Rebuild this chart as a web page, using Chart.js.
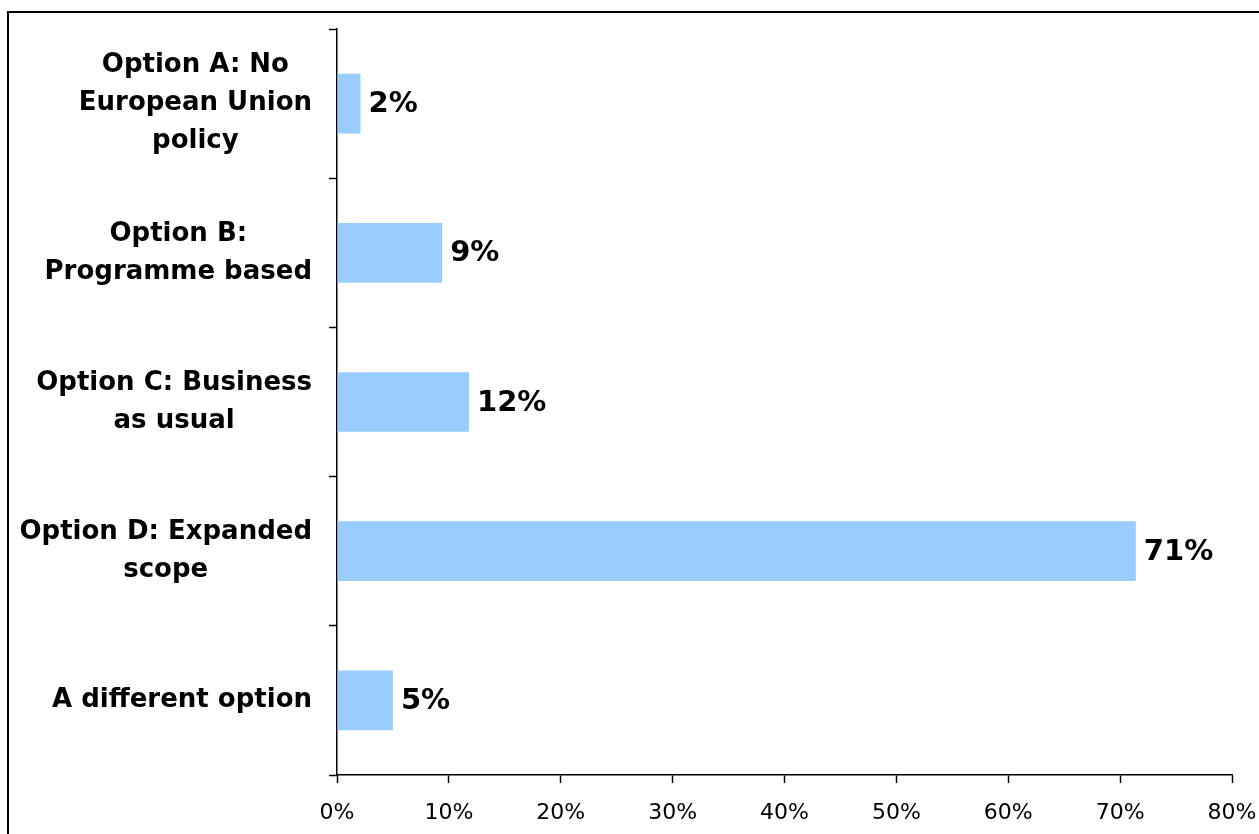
<!DOCTYPE html>
<html lang="en">
<head>
    <meta charset="UTF-8">
    <title>Policy options</title>
    <script src="https://cdn.jsdelivr.net/npm/chart.js"></script>
    <style>
        body {
            margin: 0;
            padding: 0;
            background-color: #fff;
            overflow: hidden;
        }
        .frame {
            position: absolute;
            left: 7px;
            top: 11px;
            width: 1300px;
            height: 900px;
            border: 2px solid #000;
        }
        .wrap {
            position: absolute;
            left: 0;
            top: 0;
            width: 1259px;
            height: 834px;
        }
    </style>
</head>
<body>
    <div class="frame"></div>
    <div class="wrap"><canvas id="optionsChart"></canvas></div>

    <script>
        const categories = [
            ['Option A: No', 'European Union', 'policy'],
            ['Option B:', 'Programme based'],
            ['Option C: Business', 'as usual'],
            ['Option D: Expanded', 'scope'],
            ['A different option']
        ];
        const shares = [2.1, 9.4, 11.8, 71.4, 5.0];
        const xTicks = [0, 10, 20, 30, 40, 50, 60, 70, 80];

        const labelFont = 'bold 26px "DejaVu Sans", Tahoma, sans-serif';
        const valueFont = 'bold 29px "DejaVu Sans", Tahoma, sans-serif';

        // category labels: each block right-aligned, lines centred within the block
        const categoryLabels = {
            id: 'categoryLabels',
            afterDraw(chart) {
                const ctx = chart.ctx;
                const y = chart.scales.y;
                const rightEdge = y.right - 25;
                ctx.save();
                ctx.font = labelFont;
                ctx.fillStyle = '#000';
                ctx.textAlign = 'center';
                ctx.textBaseline = 'middle';
                categories.forEach((lines, i) => {
                    const widest = Math.max(...lines.map(l => ctx.measureText(l).width));
                    const cx = rightEdge - widest / 2;
                    const cy = y.getPixelForValue(i);
                    const lh = 38;
                    lines.forEach((line, j) => {
                        ctx.fillText(line, cx, cy + (j - (lines.length - 1) / 2) * lh);
                    });
                });
                ctx.restore();
            }
        };

        // value labels at the end of each bar
        const valueLabels = {
            id: 'valueLabels',
            afterDatasetsDraw(chart) {
                const ctx = chart.ctx;
                const meta = chart.getDatasetMeta(0);
                ctx.save();
                ctx.font = valueFont;
                ctx.fillStyle = '#000';
                ctx.textAlign = 'left';
                ctx.textBaseline = 'middle';
                meta.data.forEach((bar, i) => {
                    ctx.fillText(Math.round(shares[i]) + '%', bar.x + 8, bar.y + 1);
                });
                ctx.restore();
            }
        };

        new Chart(document.getElementById('optionsChart'), {
            type: 'bar',
            data: {
                labels: categories,
                datasets: [{
                    data: shares,
                    backgroundColor: '#99CCFF',
                    borderWidth: 0,
                    categoryPercentage: 0.8,
                    barPercentage: 0.5
                }]
            },
            options: {
                indexAxis: 'y',
                responsive: true,
                maintainAspectRatio: false,
                animation: false,
                layout: {
                    padding: { top: 29, right: 27, bottom: 0, left: 0 }
                },
                plugins: {
                    legend: { display: false },
                    tooltip: { enabled: false }
                },
                scales: {
                    x: {
                        min: 0,
                        max: 80,
                        afterBuildTicks: scale => {
                            scale.ticks = xTicks.map(v => ({ value: v }));
                        },
                        afterFit: scale => {
                            scale.height = 59;
                            scale.paddingRight = 0;
                            scale.paddingLeft = 0;
                        },
                        border: { color: '#000', width: 1.5 },
                        grid: {
                            drawOnChartArea: false,
                            drawTicks: true,
                            tickLength: 8,
                            tickWidth: 1.5,
                            color: '#000'
                        },
                        ticks: {
                            color: '#000',
                            padding: 17,
                            maxRotation: 0,
                            font: { family: '"DejaVu Sans", Tahoma, sans-serif', size: 22 },
                            callback: v => v + '%'
                        }
                    },
                    y: {
                        afterFit: scale => { scale.width = 337; },
                        border: { color: '#000', width: 1.5 },
                        grid: {
                            drawOnChartArea: false,
                            drawTicks: true,
                            tickLength: 8,
                            tickWidth: 1.5,
                            color: '#000'
                        },
                        ticks: { display: false }
                    }
                }
            },
            plugins: [categoryLabels, valueLabels]
        });
    </script>
</body>
</html>
